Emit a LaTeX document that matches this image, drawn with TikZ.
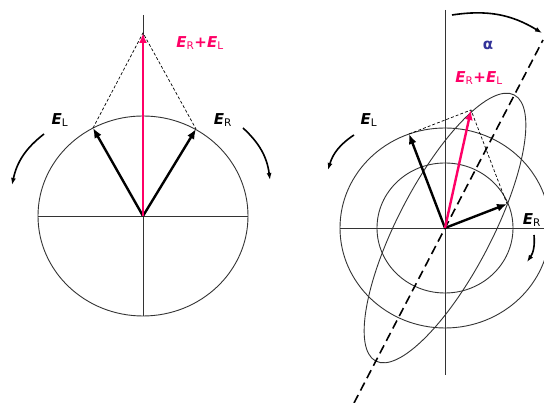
\documentclass[tikz,border=0pt]{standalone}
\usepackage{fontspec}
\setmainfont{DejaVu Sans}
\usepackage{xcolor}
\usepackage{tikz}
\usetikzlibrary{arrows.meta}
\definecolor{sumpink}{RGB}{255,0,102}
\definecolor{angblue}{RGB}{51,51,153}
\newcommand{\fieldE}[1]{\textbf{\textit{E}}\textsubscript{#1}}

\begin{document}
\begin{tikzpicture}[
  x=1pt,y=1pt,
  axis/.style={draw=black!80,line width=0.8pt},
  ring/.style={draw=black!80,line width=0.9pt},
  field/.style={-{Latex[length=10pt,width=8pt]},line width=2.4pt},
  sumvec/.style={field,draw=sumpink,fill=sumpink},
  guide/.style={dash pattern=on 3pt off 2pt,line width=0.7pt},
  majaxis/.style={dash pattern=on 9pt off 5pt,line width=1.6pt},
  turn/.style={-{Latex[length=7pt,width=5pt]},line width=1.6pt},
  lbl/.style={font=\fontsize{15}{18}\selectfont,inner sep=0pt}
]
\useasboundingbox (0,0) rectangle (544,403);
% left: circular components
\coordinate (cL) at (143,187);
\coordinate (axL-t) at (143,388);
\coordinate (axL-b) at (143,87);
\coordinate (axL-l) at (38,187);
\coordinate (axL-r) at (248,187);
\coordinate (eL1) at (93,275);
\coordinate (eR1) at (196,274);
\coordinate (sum1) at (143,370);
\coordinate (rotL1-a) at (44,269);
\coordinate (rotL1-b) at (12,218);
\coordinate (rotR1-a) at (243,275);
\coordinate (rotR1-b) at (270,223);
\draw[ring] (cL) ellipse [x radius=105,y radius=100];
\draw[axis] (axL-t) -- (axL-b);
\draw[axis] (axL-l) -- (axL-r);
\draw[guide] (eL1) -- (sum1) -- (eR1);
\draw[field] (cL) -- (eL1);
\draw[field] (cL) -- (eR1);
\draw[sumvec] (cL) -- (sum1);
\draw[turn] (rotL1-a) to[bend right=20] (rotL1-b);
\draw[turn] (rotR1-a) to[bend left=20] (rotR1-b);
\node[lbl] (lab-eL1) at (60,283) {\fieldE{L}};
\node[lbl] (lab-eR1) at (223,283) {\fieldE{R}};
\node[lbl,text=sumpink] (lab-sum1) at (200,360) {\fieldE{R}\textbf{+}\fieldE{L}};
% right: unequal components, ellipse
\coordinate (cR) at (445,175);
\coordinate (axR-t) at (445,393);
\coordinate (axR-b) at (445,28);
\coordinate (axR-l) at (340,175);
\coordinate (axR-r) at (544,175);
\coordinate (maj-t) at (543,363);
\coordinate (maj-b) at (354,0);
\coordinate (eL2) at (409,269);
\coordinate (eR2) at (507,199);
\coordinate (sum2) at (471,293);
\coordinate (alpha-a) at (452,388);
\coordinate (alpha-b) at (542,370);
\coordinate (rotL2-a) at (354,268);
\coordinate (rotL2-b) at (328,233);
\coordinate (rotR2-a) at (534,168);
\coordinate (rotR2-b) at (527,141);
\draw[ring] (cR) ellipse [x radius=105,y radius=100];
\draw[ring] (cR) ellipse [x radius=68,y radius=65];
\draw[ring,rotate around={62.5:(cR)}] (cR) ellipse [x radius=150,y radius=47];
\draw[axis] (axR-t) -- (axR-b);
\draw[axis] (axR-l) -- (axR-r);
\draw[majaxis] (maj-b) -- (maj-t);
\draw[guide] (eL2) -- (sum2) -- (eR2);
\draw[field] (cR) -- (eL2);
\draw[field] (cR) -- (eR2);
\draw[sumvec] (cR) -- (sum2);
\draw[turn] (alpha-a) to[bend left=20] (alpha-b);
\draw[turn] (rotL2-a) to[bend right=20] (rotL2-b);
\draw[turn] (rotR2-a) to[bend left=20] (rotR2-b);
\node[lbl] (lab-eL2) at (369,283) {\fieldE{L}};
\node[lbl] (lab-eR2) at (532,183) {\fieldE{R}};
\node[lbl,text=sumpink] (lab-sum2) at (479,325) {\fieldE{R}\textbf{+}\fieldE{L}};
\node[lbl,text=angblue] (lab-alpha) at (488,358) {\textbf{α}};
\end{tikzpicture}
\end{document}
